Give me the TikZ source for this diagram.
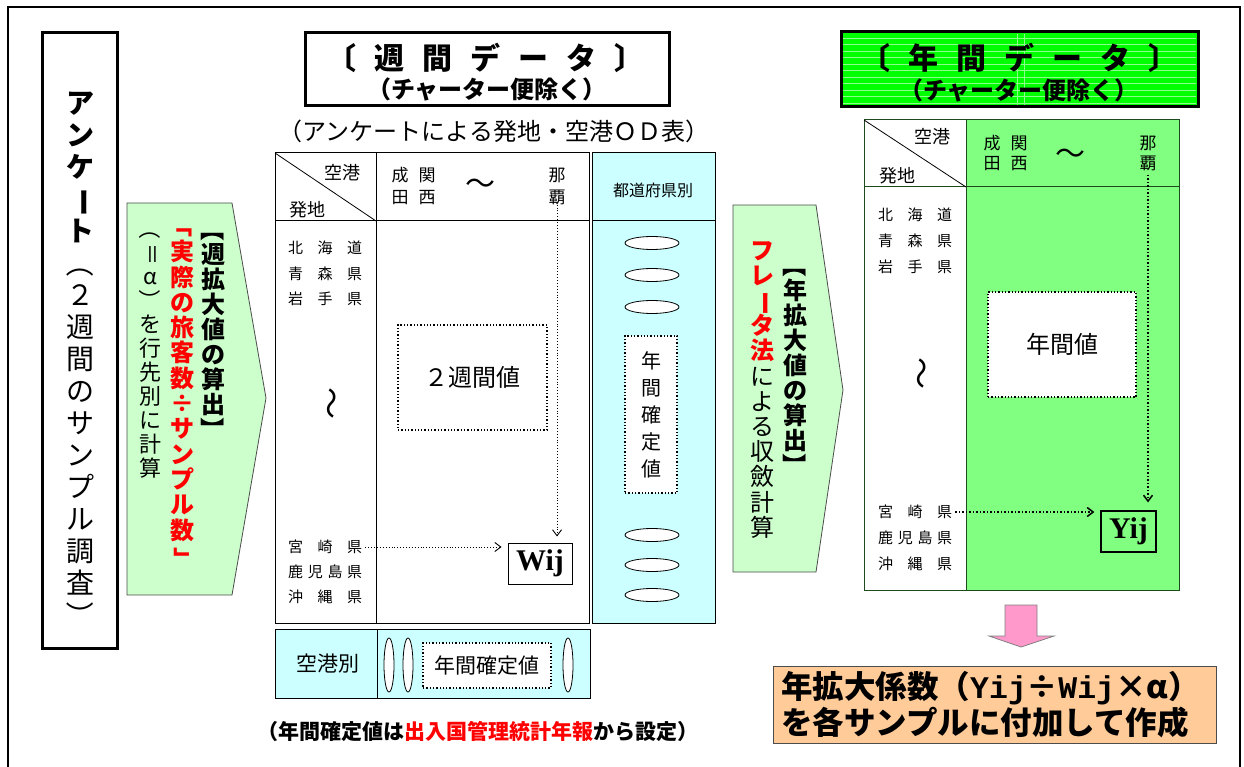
\documentclass[tikz,border=0pt]{standalone}
\usepackage{fontspec}
\setmainfont{Noto Sans CJK JP}
\newfontfamily\serifnum{Liberation Serif}
\newfontfamily\monolat{Liberation Mono}
\usepackage{graphicx}
\usepackage{xcolor}
\usetikzlibrary{arrows.meta}

\definecolor{lgreen}{HTML}{CCFFCC}
\definecolor{lcyan}{HTML}{CCFFFF}
\definecolor{mgreen}{HTML}{80FF80}
\definecolor{bgreen}{HTML}{00FF00}
\definecolor{lpink}{HTML}{FF99CC}
\definecolor{lorange}{HTML}{FFCC99}
\definecolor{tgreen}{HTML}{1E4A1E}

\newcommand\fsz[1]{\fontsize{#1}{#1}\selectfont}
\newcommand\rt[1]{\rotatebox[origin=c]{-90}{#1}}
\newcommand\gap{\hspace{0.6em}}
\newcommand\pref[1]{\makebox[74pt][s]{#1}}
\ExplSyntaxOn
\NewDocumentCommand\tatechars{O{}m}{\tl_map_inline:nn {#2}{\hbox to 1em{\hss #1 ##1\hss}}}
\ExplSyntaxOff
\newcommand\tate[2]{\vbox{\baselineskip=#1\relax\lineskiplimit=-\maxdimen #2}}

\begin{document}
\begin{tikzpicture}[x=1pt,y=-1pt,
  cell/.style={draw=black,line width=1pt},
  dotbox/.style={draw=black,fill=white,line width=1.3pt,dotted},
  dotarrow/.style={dotted,line width=.9pt,-{Straight Barb[length=6pt,width=9pt]}},
  prefname/.style={anchor=west,inner sep=0pt,font=\fsz{15}},
  hdr/.style={inner sep=0pt,font=\fontsize{17}{22}\selectfont},
  wave/.style={inner sep=0pt,font=\fsz{32}},
  blockarrow/.style={fill=lgreen,draw=black!70,line width=.8pt},
  ellip/.style={fill=white,draw=black,line width=.8pt}]
\useasboundingbox (0,0) rectangle (1244,767);
%%%%% Frame %%%%%
\draw[line width=2.5pt] (8,767) -- (8,7) -- (1240,7) -- (1240,767);

%%%%% Survey %%%%%
\draw[line width=3pt] (42,33) rectangle (117,648);
\node[anchor=north,inner sep=0pt] (survey) at (80,92) {\fsz{28}\tate{32pt}{\tatechars[\bfseries]{アンケ{\rt{ー}}ト}\tatechars{{\rt{（}}２週間のサンプル調査{\rt{）}}}}};

%%%%% Weekly expansion %%%%%
\draw[blockarrow] (127,203) -- (232,203) -- (266,398) -- (232,595) -- (127,595) -- cycle;
\node[anchor=north,inner sep=0pt] (wk-head) at (213,217) {\fsz{24}\tate{25pt}{\tatechars[\bfseries]{{\rt{【}}週拡大値の算出{\rt{】}}}}};
\node[anchor=north,inner sep=0pt] (wk-ratio) at (182,213) {\fsz{24}\tate{25.3pt}{\tatechars[\bfseries\color{red}]{{\rt{「}}実際の旅客数÷サンプル数{\rt{」}}}}};
\node[anchor=north,inner sep=0pt] (wk-note) at (150,217) {\fsz{22}\tate{24pt}{\tatechars{{\rt{（}}{\rt{＝}}α{\rt{）}}を行先別に計算}}};

%%%%% Weekly data %%%%%
\draw[line width=3pt] (305,33) rectangle (669,106);
\node[font=\fsz{30}\bfseries] (wk-title) at (485,58) {〔\gap 週\gap 間\gap デ\gap ー\gap タ\gap 〕};
\node[font=\fsz{24}\bfseries] (wk-subtitle) at (487,89) {（チャーター便除く）};
\node[font=\fsz{24}] (wk-od) at (494,131) {（アンケートによる発地・空港ＯＤ表）};

\draw[cell] (275,153) rectangle (589,623);
\draw[cell] (275,221) -- (589,221);
\draw[cell] (376,153) -- (376,623);
\draw[line width=.8pt] (275,153) -- (376,221);
\node[hdr,font=\fsz{18}] (w-airport) at (342,173) {空港};
\node[hdr,font=\fsz{18}] (w-origin) at (307,210) {発地};
\node[hdr,align=center] (w-narita) at (400,186) {成\\田};
\node[hdr,align=center] (w-kansai) at (427,186) {関\\西};
\node[font=\fsz{30}] (w-tilde) at (480,187) {〜};
\node[hdr,align=center] (w-naha) at (557,186) {那\\覇};

\node[prefname] (w-hokkaido) at (288,248) {\pref{北\hfill 海\hfill 道}};
\node[prefname] (w-aomori) at (288,274) {\pref{青\hfill 森\hfill 県}};
\node[prefname] (w-iwate) at (288,299) {\pref{岩\hfill 手\hfill 県}};
\node[wave] (w-wave) at (328,403) {\rotatebox[origin=c]{-90}{〜}};
\node[prefname] (w-miyazaki) at (288,547) {\pref{宮\hfill 崎\hfill 県}};
\node[prefname] (w-kagoshima) at (288,572) {\pref{鹿\hfill 児\hfill 島\hfill 県}};
\node[prefname] (w-okinawa) at (288,597) {\pref{沖\hfill 縄\hfill 県}};

\node[dotbox,minimum width=149pt,minimum height=105pt,font=\fsz{24}] (w-twoweek) at (472.5,377.5) {２週間値};
\node[draw,fill=white,line width=1pt,minimum width=64pt,minimum height=41pt,inner sep=0pt,font=\serifnum\bfseries\fsz{30}] (wij) at (540,563.5) {Wij};
\draw[dotarrow,shorten >=6pt] (w-naha.south) -- (w-naha.south |- wij.north);
\draw[dotarrow,shorten <=3pt,shorten >=6pt] (w-miyazaki.east) -- (w-miyazaki.east -| wij.west);

% prefecture column
\draw[cell,fill=lcyan] (592,153) rectangle (715,623);
\draw[cell] (592,221) -- (715,221);
\node[font=\fsz{16}] (w-bypref) at (653,190) {都道府県別};
\foreach \y in {243,275,307,535,565,595}{
\draw[ellip] (652,\y) ellipse (27pt and 6.5pt);
}
\node[dotbox,minimum width=52pt,minimum height=157pt,inner sep=0pt] (w-fixed) at (651,414.5) {\fsz{20}\tate{27pt}{\tatechars{年間確定値}}};

% airport row
\draw[cell,fill=lcyan] (275,629) rectangle (590,698);
\draw[cell] (377,629) -- (377,698);
\node[font=\fsz{21}] (w-byairport) at (328,664) {空港別};
\foreach \x in {389,408,568}{
\draw[ellip] (\x,665) ellipse (5pt and 27pt);
}
\node[dotbox,minimum width=128pt,minimum height=45pt,font=\fsz{21}] (w-fixed2) at (487,665.5) {年間確定値};
\node[font=\fsz{21}\bfseries] (w-source) at (478,731) {（年間確定値は{\color{red}出入国管理統計年報}から設定）};

%%%%% Annual expansion %%%%%
\draw[blockarrow] (733,205) -- (816,205) -- (843,390) -- (816,572) -- (733,572) -- cycle;
\node[anchor=north,inner sep=0pt] (yr-head) at (795,253) {\fsz{24}\tate{25pt}{\tatechars[\bfseries]{{\rt{【}}年拡大値の算出{\rt{】}}}}};
\node[anchor=north,inner sep=0pt] (yr-note) at (762,241) {\fsz{24}\tate{25.2pt}{\tatechars[\bfseries\color{red}]{フレ{\rt{ー}}タ法}\tatechars{による収斂計算}}};

%%%%% Annual data %%%%%
\fill[bgreen] (841,32) rectangle (1198,107);
\foreach \y in {38,44.5,...,104}{
\draw[white!55!bgreen,line width=.7pt] (843,\y) -- (1196,\y);
}
\draw[white!55!bgreen,line width=1pt] (1017,34) -- (1017,105) (1024,34) -- (1024,105);
\draw[line width=3pt] (841,32) rectangle (1198,107);
\node[font=\fsz{30}\bfseries] (yr-title) at (1019,58) {〔\gap 年\gap 間\gap デ\gap ー\gap タ\gap 〕};
\node[font=\fsz{24}\bfseries] (yr-subtitle) at (1019,90) {（チャーター便除く）};

\fill[mgreen] (966,120) rectangle (1179,590);
\draw[cell,draw=tgreen] (864,120) rectangle (1179,590);
\draw[cell,draw=tgreen] (864,187) -- (1179,187);
\draw[cell,draw=tgreen] (966,120) -- (966,590);
\draw[line width=.8pt] (864,120) -- (966,187);
\node[hdr,font=\fsz{18}] (y-airport) at (932,137) {空港};
\node[hdr,font=\fsz{18}] (y-origin) at (897,176) {発地};
\node[hdr,align=center,font=\fontsize{17}{20}\selectfont] (y-narita) at (992,153) {成\\田};
\node[hdr,align=center,font=\fontsize{17}{20}\selectfont] (y-kansai) at (1019,153) {関\\西};
\node[font=\fsz{30}] (y-tilde) at (1070,157) {〜};
\node[hdr,align=center,font=\fontsize{17}{20}\selectfont] (y-naha) at (1148,153) {那\\覇};

\node[prefname] (y-hokkaido) at (878,215) {\pref{北\hfill 海\hfill 道}};
\node[prefname] (y-aomori) at (878,241) {\pref{青\hfill 森\hfill 県}};
\node[prefname] (y-iwate) at (878,267) {\pref{岩\hfill 手\hfill 県}};
\node[wave] (y-wave) at (918,373) {\rotatebox[origin=c]{-90}{〜}};
\node[prefname] (y-miyazaki) at (878,512) {\pref{宮\hfill 崎\hfill 県}};
\node[prefname] (y-kagoshima) at (878,538) {\pref{鹿\hfill 児\hfill 島\hfill 県}};
\node[prefname] (y-okinawa) at (878,564) {\pref{沖\hfill 縄\hfill 県}};

\node[dotbox,minimum width=148pt,minimum height=105pt,font=\fsz{24}] (y-annual) at (1062,344.5) {年間値};
\node[draw,fill=none,line width=1.2pt,minimum width=55pt,minimum height=41pt,inner sep=0pt,font=\serifnum\bfseries\fsz{30}] (yij) at (1128.5,531.5) {Yij};
\draw[dotarrow,line width=1.5pt,shorten <=4pt,shorten >=8pt] (y-naha.south) -- (y-naha.south |- yij.north);
\draw[dotarrow,line width=1.5pt,shorten <=3pt,shorten >=6pt] (y-miyazaki.east) -- (y-miyazaki.east -| yij.west);

%%%%% Result %%%%%
\draw[fill=lpink,draw=black!50,line width=.8pt] (1005,605) -- (1037,605) -- (1037,636) -- (1054,636) -- (1021,647) -- (989,636) -- (1005,636) -- cycle;
\draw[fill=lorange,draw=black!70,line width=1pt] (773,666) rectangle (1216,743);
\node[anchor=west,inner sep=0pt,font=\fsz{31.5}\bfseries] (coef) at (781,688) {年拡大係数（{\monolat Yij}÷{\monolat Wij}×α）};
\node[anchor=west,inner sep=0pt,font=\fsz{31.5}\bfseries] (coef-use) at (781,722) {を各サンプルに付加して作成};
\end{tikzpicture}
\end{document}
